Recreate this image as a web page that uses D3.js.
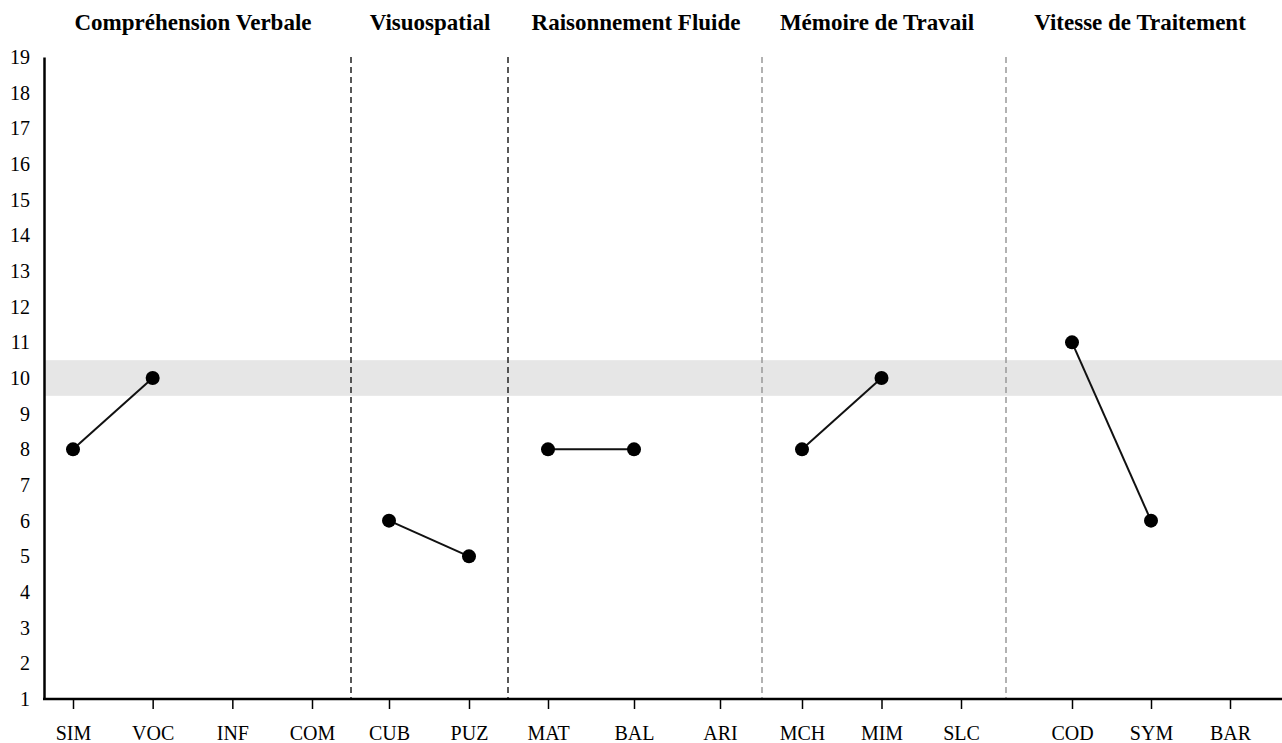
<!DOCTYPE html>
<html><head><meta charset="utf-8">
<script src="https://cdn.jsdelivr.net/npm/d3@7"></script>
<style>body{margin:0;background:#fff}svg{display:block}</style>
</head><body>
<script>
// ---- data ----
const groups = ["Compréhension Verbale","Visuospatial","Raisonnement Fluide","Mémoire de Travail","Vitesse de Traitement"];
const subtestsCV = ["SIM","VOC","INF","COM"];
const subtestsVS = ["CUB","PUZ"];
const subtestsRF = ["MAT","BAL","ARI"];
const subtestsMT = ["MCH","MIM","SLC"];
const subtestsVT = ["COD","SYM","BAR"];
const scoresCV = [8,10,null,null];
const scoresVS = [6,5];
const scoresRF = [8,8,null];
const scoresMT = [8,10,null];
const scoresVT = [11,6,null];
const yTicks = d3.range(1,20);
const bandLow = 9.5, bandHigh = 10.5;

// ---- layout ----
const W = 1282, H = 743;
const x0 = 44, x1 = 1282, yTop = 57, yBot = 699;
const groupRanges = [[73,312],[389,469],[548,720],[802,961],[1072,1230]];
const separators = [351,508,762,1006];
const sepColors = ["#222","#222","#999","#999"];
const titleX = [193,430,636,877,1140];

const subtests = [subtestsCV,subtestsVS,subtestsRF,subtestsMT,subtestsVT];
const scores = [scoresCV,scoresVS,scoresRF,scoresMT,scoresVT];

const svg = d3.select("body").append("svg").attr("width",W).attr("height",H);
const y = d3.scaleLinear().domain([1,19]).range([yBot,yTop]);
const xs = subtests.map((s,i)=>d3.scalePoint().domain(s).range(groupRanges[i]));

const font = "'Liberation Serif','Times New Roman',serif";

// band
svg.append("rect").attr("x",x0).attr("width",x1-x0)
  .attr("y",y(bandHigh)).attr("height",y(bandLow)-y(bandHigh)).attr("fill","#e6e6e6");

// separators
separators.forEach((sx,i)=>{
  svg.append("line").attr("x1",sx).attr("x2",sx).attr("y1",yTop).attr("y2",yBot)
    .attr("stroke",sepColors[i]).attr("stroke-width",1.5).attr("stroke-dasharray","6,4");
});

// y axis
const yAxis = d3.axisLeft(y).tickValues(yTicks).tickSize(0).tickPadding(14).tickFormat(d3.format("d"));
const gy = svg.append("g").attr("transform",`translate(${x0},0)`).call(yAxis);
gy.select(".domain").attr("stroke","#000").attr("stroke-width",2.5);
gy.selectAll("text").attr("font-family",font).attr("font-size",20).attr("fill","#000");

// x axes
xs.forEach((sc,i)=>{
  const g = svg.append("g").attr("transform",`translate(0,${yBot})`)
    .call(d3.axisBottom(sc).tickSize(10).tickPadding(17));
  g.select(".domain").remove();
  g.selectAll(".tick line").attr("stroke","#000").attr("stroke-width",1.5);
  g.selectAll("text").attr("font-family",font).attr("font-size",20).attr("fill","#000");
});
svg.append("line").attr("x1",x0-1).attr("x2",x1).attr("y1",yBot).attr("y2",yBot)
  .attr("stroke","#000").attr("stroke-width",2.5);

// titles
groups.forEach((t,i)=>{
  svg.append("text").attr("x",titleX[i]).attr("y",30).attr("text-anchor","middle")
    .attr("font-family",font).attr("font-weight","bold").attr("font-size",23).text(t);
});

// lines and points
subtests.forEach((s,i)=>{
  const pts = s.map((k,j)=>({k,v:scores[i][j]}));
  const line = d3.line().defined(d=>d.v!=null).x(d=>xs[i](d.k)).y(d=>y(d.v));
  svg.append("path").datum(pts).attr("d",line).attr("fill","none")
    .attr("stroke","#111").attr("stroke-width",2);
  svg.selectAll(null).data(pts.filter(d=>d.v!=null)).enter().append("circle")
    .attr("cx",d=>xs[i](d.k)).attr("cy",d=>y(d.v)).attr("r",7).attr("fill","#000");
});
</script>
</body></html>
